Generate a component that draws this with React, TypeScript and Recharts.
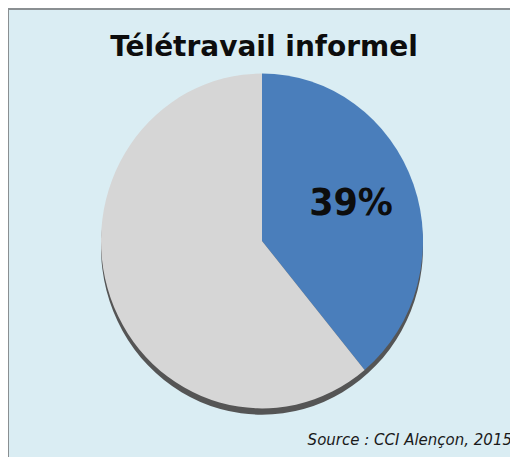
import React from "react";
import { PieChart, Pie, Cell } from "recharts";

const categories = ["Télétravail informel", "Autres"];
const values = [39, 61];
const sliceColors = ["#4a7ebb", "#d6d6d6"];
const shadowValues = [100];
const titleText = "Télétravail informel";
const sourceText = "Source : CCI Alençon, 2015";

const data = categories.map((name, i) => ({ name, value: values[i] }));
const shadowData = shadowValues.map((v) => ({ name: "shadow", value: v }));

const RAD = Math.PI / 180;

const renderLabel = (props: any) => {
  const { cx, cy, midAngle, outerRadius, index, percent } = props;
  if (index !== 0) return null;
  const r = outerRadius * 0.6;
  const a = (midAngle + 3) * RAD;
  const x = cx + r * Math.cos(-a);
  const y = cy + r * Math.sin(-a);
  return (
    <text
      x={x}
      y={y}
      textAnchor="middle"
      dominantBaseline="central"
      fill="#0d0d0d"
      fontFamily="DejaVu Sans"
      fontWeight="bold"
      fontSize={35}
    >
      {`${Math.round(percent * 100)}%`}
    </text>
  );
};

export default function App() {
  const W = 511;
  const H = 449;
  const cx = 255;
  const cy = 224;
  const R = 161;
  return (
    <div
      style={{
        position: "relative",
        width: W,
        height: H,
        marginLeft: -1,
        background: "#daedf3",
        borderTop: "2px solid #8a8f92",
        borderLeft: "2px solid #8a8f92",
        boxSizing: "border-box",
        overflow: "hidden",
      }}
    >
      <div
        style={{
          position: "absolute",
          left: 0,
          top: 20,
          width: 510,
          textAlign: "center",
          fontFamily: "DejaVu Sans",
          fontWeight: "bold",
          fontSize: 28,
          color: "#0d0d0d",
          lineHeight: "34px",
        }}
      >
        {titleText}
      </div>
      <div
        style={{
          position: "absolute",
          left: -2,
          top: -2,
          transform: "scaleY(1.04)",
          transformOrigin: "0 0",
        }}
      >
        <PieChart
          width={W}
          height={H}
          margin={{ top: 0, right: 0, bottom: 0, left: 0 }}
        >
          <Pie
            data={shadowData}
            dataKey="value"
            cx={cx}
            cy={cy + 6}
            outerRadius={R}
            startAngle={90}
            endAngle={-270}
            fill="#555555"
            stroke="none"
            isAnimationActive={false}
          />
          <Pie
            data={data}
            dataKey="value"
            nameKey="name"
            cx={cx}
            cy={cy}
            outerRadius={R}
            startAngle={90}
            endAngle={-270}
            stroke="none"
            labelLine={false}
            label={renderLabel}
            isAnimationActive={false}
          >
            {data.map((d, i) => (
              <Cell key={d.name} fill={sliceColors[i]} />
            ))}
          </Pie>
        </PieChart>
      </div>
      <div
        style={{
          position: "absolute",
          right: 6,
          top: 421,
          fontFamily: "DejaVu Sans",
          fontStyle: "italic",
          fontSize: 15,
          color: "#1a1a1a",
          whiteSpace: "nowrap",
        }}
      >
        {sourceText}
      </div>
    </div>
  );
}
